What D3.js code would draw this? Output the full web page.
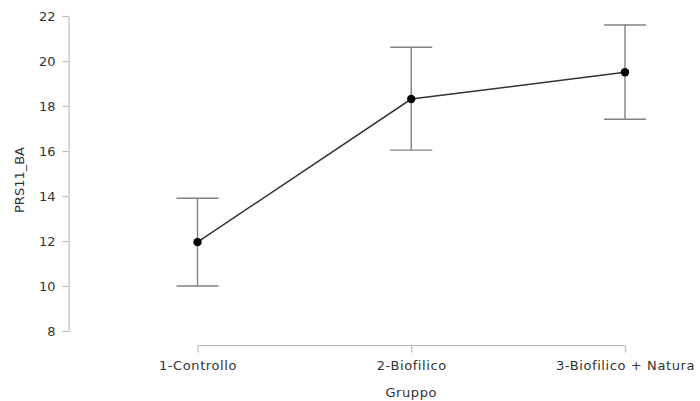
<!DOCTYPE html>
<html>
<head>
<meta charset="utf-8">
<script src="https://cdn.jsdelivr.net/npm/d3@7"></script>
<style>
  body { margin: 0; background: #fff; }
  svg text { font-family: "DejaVu Sans", "Noto Sans", sans-serif; fill: #333; }
</style>
</head>
<body>
<svg id="chart" width="700" height="401"></svg>
<script>
// Group means with confidence bounds for PRS11_BA
const groups = ["1-Controllo", "2-Biofilico", "3-Biofilico + Natura"];
const means = [11.95, 18.31, 19.5];
const lower = [10.0, 16.04, 17.41];
const upper = [13.9, 20.61, 21.6];
const yTicks = [8, 10, 12, 14, 16, 18, 20, 22];

const svg = d3.select("#chart");

const x = d3.scalePoint().domain(groups).range([197.5, 625]);
const y = d3.scaleLinear().domain([8, 22]).range([331, 16]);

const data = groups.map((g, i) => ({ g, m: means[i], lo: lower[i], hi: upper[i] }));

// Y axis
const yAxis = svg.append("g")
  .attr("transform", "translate(68.5,0)")
  .call(d3.axisLeft(y).tickValues(yTicks).tickSize(6).tickSizeOuter(0).tickPadding(7));
yAxis.select(".domain").attr("stroke", "#bbb").attr("stroke-width", 1.2);
yAxis.selectAll(".tick line").attr("stroke", "#bbb").attr("stroke-width", 1.2);
yAxis.selectAll(".tick text").attr("font-size", 13).attr("fill", "#333")
  .attr("font-family", "DejaVu Sans, sans-serif");

// X axis
const xAxis = svg.append("g")
  .attr("transform", "translate(0,345.5)")
  .call(d3.axisBottom(x).tickSize(7).tickSizeOuter(0).tickPadding(8));
xAxis.select(".domain").attr("stroke", "#bbb").attr("stroke-width", 1.2)
  .attr("d", `M${x(groups[0])},0H${x(groups[2])}`);
xAxis.selectAll(".tick line").attr("stroke", "#bbb").attr("stroke-width", 1.2);
xAxis.selectAll(".tick text").attr("font-size", 13).attr("fill", "#333")
  .attr("font-family", "DejaVu Sans, sans-serif")
  .attr("letter-spacing", "0.6px");

// Axis titles
svg.append("text")
  .attr("x", x(groups[1])).attr("y", 397)
  .attr("text-anchor", "middle").attr("font-size", 13)
  .attr("letter-spacing", "0.6px")
  .text("Gruppo");
svg.append("text")
  .attr("transform", "translate(24,180) rotate(-90)")
  .attr("text-anchor", "middle").attr("font-size", 13)
  .text("PRS11_BA");

// Error bars
const eb = svg.append("g").attr("stroke", "#808080").attr("stroke-width", 1.4);
eb.selectAll(".v").data(data).join("line")
  .attr("x1", d => x(d.g)).attr("x2", d => x(d.g))
  .attr("y1", d => y(d.lo)).attr("y2", d => y(d.hi));
eb.selectAll(".top").data(data).join("line")
  .attr("x1", d => x(d.g) - 21).attr("x2", d => x(d.g) + 21)
  .attr("y1", d => y(d.hi)).attr("y2", d => y(d.hi));
eb.selectAll(".bot").data(data).join("line")
  .attr("x1", d => x(d.g) - 21).attr("x2", d => x(d.g) + 21)
  .attr("y1", d => y(d.lo)).attr("y2", d => y(d.lo));

// Mean line and points
svg.append("path")
  .datum(data)
  .attr("fill", "none").attr("stroke", "#333").attr("stroke-width", 1.5)
  .attr("d", d3.line().x(d => x(d.g)).y(d => y(d.m)));
svg.selectAll("circle").data(data).join("circle")
  .attr("cx", d => x(d.g)).attr("cy", d => y(d.m)).attr("r", 4.2)
  .attr("fill", "#000");
</script>
</body>
</html>
